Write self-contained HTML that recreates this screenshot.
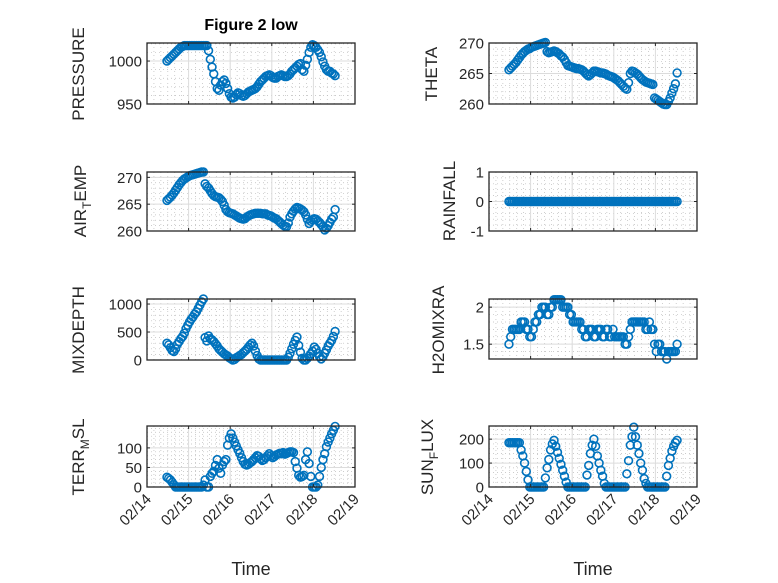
<!DOCTYPE html>
<html><head><meta charset="utf-8"><style>
html,body{margin:0;padding:0;background:#fff;}
svg{display:block;font-family:"Liberation Sans","DejaVu Sans",sans-serif;}
</style></head><body>
<svg id="fig" width="778" height="583" viewBox="0 0 778 583" xmlns="http://www.w3.org/2000/svg">
<rect width="778" height="583" fill="#fff"/>
<text x="251" y="30" text-anchor="middle" font-size="16" font-weight="bold" fill="#000">Figure 2 low</text>
<g fill="#262626" font-size="17">
<text transform="translate(84,74) rotate(-90)" text-anchor="middle">PRESSURE</text>
<text transform="translate(86,201) rotate(-90)" text-anchor="middle">AIR<tspan font-size="12" dy="5">T</tspan><tspan dy="-5">EMP</tspan></text>
<text transform="translate(84,330) rotate(-90)" text-anchor="middle">MIXDEPTH</text>
<text transform="translate(84,457) rotate(-90)" text-anchor="middle">TERR<tspan font-size="12" dy="5">M</tspan><tspan dy="-5">SL</tspan></text>
<text transform="translate(437,74) rotate(-90)" text-anchor="middle">THETA</text>
<text transform="translate(455,201) rotate(-90)" text-anchor="middle">RAINFALL</text>
<text transform="translate(444,330) rotate(-90)" text-anchor="middle">H2OMIXRA</text>
<text transform="translate(433,457) rotate(-90)" text-anchor="middle">SUN<tspan font-size="12" dy="5">F</tspan><tspan dy="-5">LUX</tspan></text>
<text x="251" y="575" text-anchor="middle" font-size="18">Time</text>
<text x="593" y="575" text-anchor="middle" font-size="18">Time</text>
</g>
<g id="plots"></g>
</svg>
<script>
// time axis: hourly samples starting at day 14.48 (Feb 14)
const tStart = 14.48;
const tStepDays = 1/24;
const xTickDays = [14,15,16,17,18,19];
const xTickLabels = ["02/14","02/15","02/16","02/17","02/18","02/19"];

const pressure = [1000,1002,1004,1006,1008,1010,1012,1014,1016,1017,1018,
1018,1018,1018,1018,1018,1018,1018,1018,1018,1018,1018,1018,1018,
1012,1002,993,985,976,968,966,972,976,978,974,968,962,958,957,958,961,963,962,960,959,960,962,964,965,966,967,968,970,973,976,978,980,982,983,984,983,981,980,980,982,983,984,983,982,982,983,985,988,990,992,994,996,997,990,988,995,1002,1010,1016,1019,1018,1016,1013,1010,1005,999,994,990,988,988,986,985,983];

const airTemp = [265.7,266.0,266.3,266.7,267.1,267.6,268.1,268.6,269.0,269.4,269.7,269.9,270.1,270.3,270.4,270.5,270.6,270.7,270.8,270.9,271.0,271.0,
268.8,268.3,268.0,267.5,267.0,266.6,266.4,266.3,266.2,265.9,265.5,264.8,264.0,263.6,263.4,263.3,263.2,263.0,262.8,262.6,262.4,262.3,262.2,262.3,262.6,262.8,
263.0,263.1,263.2,263.3,263.3,263.3,263.3,263.2,263.2,263.2,263.0,262.9,262.8,262.6,262.4,262.3,262.0,261.7,261.4,261.1,260.9,260.8,261.5,262.6,263.2,263.7,264.1,264.4,264.3,264.1,263.9,263.6,263.0,262.2,261.4,261.8,262.1,262.3,262.2,261.9,261.6,261.2,260.8,260.2,260.5,261.0,261.6,262.2,262.6,264.0];

const mixDepth = [300,270,220,170,150,200,280,330,380,420,480,560,620,680,730,770,820,860,920,980,1040,1090,
400,340,430,380,360,330,290,250,200,170,140,110,90,70,40,20,0,10,40,60,80,100,130,160,190,230,270,300,250,160,80,20,0,
0,0,0,0,0,0,0,0,0,0,0,0,0,0,0,
50,120,200,280,350,410,260,140,30,0,0,30,70,110,160,230,190,120,60,20,60,120,180,250,300,350,420,510];

const terrMsl = [25,22,18,12,6,0,0,0,0,0,0,0,0,0,0,0,0,0,0,0,0,
5,18,0,0,27,35,40,55,70,48,35,56,65,70,107,125,136,125,115,105,95,86,75,65,58,56,58,62,65,70,75,80,78,72,68,70,75,80,85,80,75,78,
82,84,86,85,88,84,86,88,90,90,88,65,48,30,25,27,30,70,90,60,27,0,0,0,5,27,50,70,85,103,115,125,136,145,155];

const theta = [265.6,265.9,266.2,266.5,266.8,267.2,267.6,268.0,268.3,268.6,268.8,269.0,269.1,269.3,269.4,269.5,269.6,269.7,269.8,269.9,270.0,270.1,
268.6,268.4,268.5,268.6,268.7,268.6,268.4,268.2,267.9,267.7,267.3,266.8,266.3,266.2,266.1,266.0,265.9,265.8,265.8,265.7,265.6,265.4,265.1,264.8,264.6,264.8,265.1,265.4,
265.4,265.3,265.2,265.1,265.1,265.0,264.9,264.7,264.6,264.5,264.4,264.2,264.0,263.8,263.5,263.2,262.9,262.6,262.4,263.5,265.0,265.4,
265.3,265.1,264.9,264.6,264.3,264.0,263.8,263.6,263.5,263.4,263.3,263.2,261.0,260.8,260.6,260.4,260.2,260.0,259.9,259.9,260.4,261.0,261.8,262.5,263.3,265.1];

const rainfall = [0,0,0,0,0,0,0,0,0,0,0,0,0,0,0,0,0,0,0,0,0,0,0,0,0,0,0,0,0,0,0,0,0,0,0,0,0,0,0,0,0,0,0,0,0,0,0,0,0,0,
0,0,0,0,0,0,0,0,0,0,0,0,0,0,0,0,0,0,0,0,0,0,0,0,0,0,0,0,0,0,0,0,0,0,0,0,0,0,0,0,0,0,0,0,0,0,0,0];

const h2oMixra = [1.5,1.6,1.7,1.7,1.7,1.7,1.7,1.8,1.8,1.8,1.7,1.7,1.6,1.6,1.7,1.8,1.8,1.9,1.9,2.0,2.0,2.0,1.9,
1.9,2.0,2.0,2.1,2.1,2.1,2.1,2.1,2.0,2.0,2.0,2.0,1.9,1.9,1.8,1.8,1.8,1.8,1.8,1.7,1.7,1.6,1.6,1.7,
1.7,1.7,1.6,1.6,1.7,1.7,1.7,1.6,1.6,1.7,1.7,1.6,1.6,1.7,1.6,1.6,1.6,1.6,1.6,1.6,1.5,1.5,1.6,1.7,1.8,
1.8,1.8,1.8,1.8,1.8,1.8,1.8,1.7,1.7,1.8,1.7,1.7,1.5,1.4,1.5,1.5,1.4,1.4,1.4,1.3,1.4,1.4,1.4,1.4,1.4,1.5];

const sunFlux = [185,185,185,185,185,185,185,155,130,100,65,30,0,0,0,0,0,0,0,0,0,
38,80,115,155,180,195,170,145,120,95,70,45,20,0,0,0,0,0,0,0,0,0,0,0,
50,90,140,175,200,170,130,100,70,45,15,0,0,0,0,0,0,0,0,0,0,0,0,
55,110,175,210,250,210,175,140,100,70,35,15,0,0,0,0,0,0,0,0,0,0,0,45,90,120,150,170,185,195];

const pressureTicks = [950,1000];
const airTempTicks = [260,265,270];
const mixDepthTicks = [0,500,1000];
const terrMslTicks = [0,50,100];
const thetaTicks = [260,265,270];
const rainfallTicks = [-1,0,1];
const h2oTicks = [1.5,2];
const sunTicks = [0,100,200];

const panels = [
 {name:"pressure", x0:147,x1:355,y0:43,y1:104,ymin:950,ymax:1021,ticks:pressureTicks,minor:10,data:pressure,xl:false},
 {name:"air-temp", x0:147,x1:355,y0:172,y1:231,ymin:260,ymax:271,ticks:airTempTicks,minor:1,data:airTemp,xl:false},
 {name:"mixdepth", x0:147,x1:355,y0:299,y1:360,ymin:0,ymax:1090,ticks:mixDepthTicks,minor:100,data:mixDepth,xl:false},
 {name:"terr-msl", x0:147,x1:355,y0:426,y1:487,ymin:0,ymax:156,ticks:terrMslTicks,minor:10,data:terrMsl,xl:true},
 {name:"theta", x0:489,x1:697,y0:43,y1:104,ymin:260,ymax:270,ticks:thetaTicks,minor:1,data:theta,xl:false},
 {name:"rainfall", x0:489,x1:697,y0:172,y1:231,ymin:-1,ymax:1,ticks:rainfallTicks,minor:0.2,data:rainfall,xl:false},
 {name:"h2omixra", x0:489,x1:697,y0:299,y1:359,ymin:1.3,ymax:2.11,ticks:h2oTicks,minor:0.1,data:h2oMixra,xl:false},
 {name:"sun-flux", x0:489,x1:697,y0:426,y1:487,ymin:0,ymax:255,ticks:sunTicks,minor:20,data:sunFlux,xl:true}
];

const NS="http://www.w3.org/2000/svg";
const root=document.getElementById("plots");
function mk(tag,attrs,parent){const e=document.createElementNS(NS,tag);for(const k in attrs)e.setAttribute(k,attrs[k]);parent.appendChild(e);return e;}

panels.forEach(p=>{
  const g=mk("g",{},root);
  
  
  const xs=d=>p.x0+(d-14)/5*(p.x1-p.x0);
  const ys=v=>p.y1-(v-p.ymin)/(p.ymax-p.ymin)*(p.y1-p.y0);
  mk("rect",{x:p.x0,y:p.y0,width:p.x1-p.x0,height:p.y1-p.y0,fill:"#fff"},g);
  for(let d=14;d<19;d+=1/6){
    const x=xs(d); if(Math.abs((d*6)%6)<0.01) continue;
    mk("line",{x1:x,x2:x,y1:p.y0,y2:p.y1,stroke:"#bbb","stroke-width":0.7,"stroke-dasharray":"1 3"},g);
  }
  const m0=Math.ceil(p.ymin/p.minor-1e-6);
  for(let k=m0;k*p.minor<=p.ymax+1e-9;k++){
    const v=k*p.minor; const y=ys(v);
    mk("line",{x1:p.x0,x2:p.x1,y1:y,y2:y,stroke:"#bbb","stroke-width":0.7,"stroke-dasharray":"1 3"},g);
  }
  xTickDays.forEach(d=>{const x=xs(d);mk("line",{x1:x,x2:x,y1:p.y0,y2:p.y1,stroke:"#dcdcdc","stroke-width":1},g);});
  p.ticks.forEach(v=>{const y=ys(v);mk("line",{x1:p.x0,x2:p.x1,y1:y,y2:y,stroke:"#dcdcdc","stroke-width":1},g);});
  const mg=mk("g",{fill:"none",stroke:"#0072BD","stroke-width":1.6},g);
  
  
  p.data.forEach((v,i)=>{
    const c=mk("circle",{cx:xs(tStart+i*tStepDays).toFixed(2),cy:ys(v).toFixed(2),r:3.9},mg);
    
    
  });
  xTickDays.forEach((d,j)=>{
    const x=xs(d);
    mk("line",{x1:x,x2:x,y1:p.y1,y2:p.y1-3,stroke:"#262626"},g);
    mk("line",{x1:x,x2:x,y1:p.y0,y2:p.y0+3,stroke:"#262626"},g);
    if(p.xl){
      const t=mk("text",{transform:`translate(${x+5},${p.y1+13}) rotate(-45)`,"text-anchor":"end","font-size":15,fill:"#262626"},g);
      t.textContent=xTickLabels[j];
      
      
    }
  });
  p.ticks.forEach(v=>{
    const y=ys(v);
    mk("line",{x1:p.x0,x2:p.x0+3,y1:y,y2:y,stroke:"#262626"},g);
    mk("line",{x1:p.x1,x2:p.x1-3,y1:y,y2:y,stroke:"#262626"},g);
    const t=mk("text",{x:p.x0-5,y:y+5.5,"text-anchor":"end","font-size":15,fill:"#262626"},g);
    t.textContent=String(v);
    
    
  });
  mk("rect",{x:p.x0,y:p.y0,width:p.x1-p.x0,height:p.y1-p.y0,fill:"none",stroke:"#262626","stroke-width":1.3},g);
});
</script>
</body></html>
